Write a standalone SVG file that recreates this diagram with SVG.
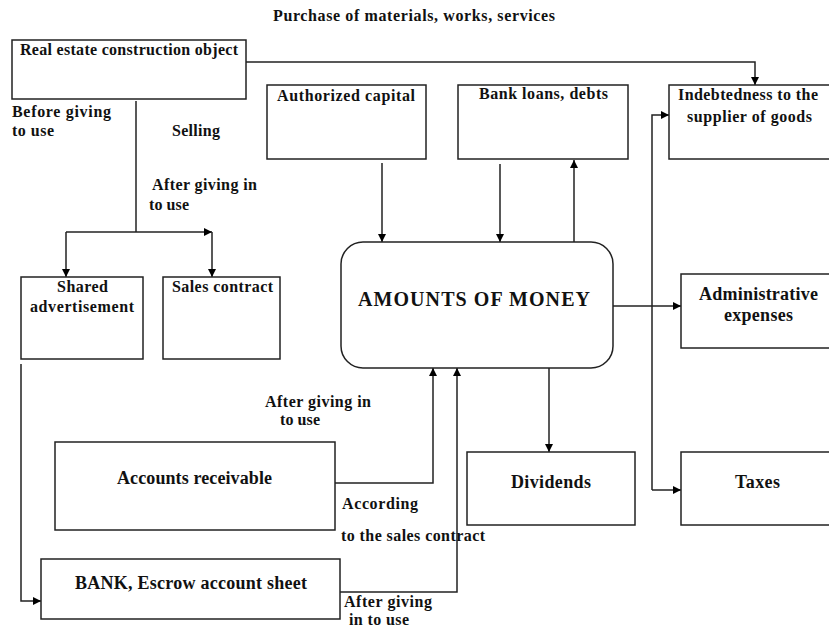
<svg xmlns="http://www.w3.org/2000/svg" width="829" height="627" viewBox="0 0 829 627">
  <defs>
    <marker id="arrow" viewBox="0 0 10 10" refX="10" refY="5" markerWidth="8" markerHeight="8" markerUnits="userSpaceOnUse" orient="auto">
      <path d="M0,0 L10,5 L0,10 z" fill="#000"/>
    </marker>
    <style>
      .box { fill: #fff; stroke: #222; stroke-width: 1.5; }
      .lbl { font-family: "Liberation Serif", "Times New Roman", serif; font-weight: bold; font-size: 16px; fill: #111; }
      .mid { text-anchor: middle; }
      .big { font-size: 18px; }
      .huge { font-size: 20px; }
      .edge { fill: none; stroke: #222; stroke-width: 1.5; }
      .arr { marker-end: url(#arrow); }
    </style>
  </defs>
  <rect width="829" height="627" fill="#fff"/>

  <!-- free labels -->
  <g id="labels">
    <text class="lbl" x="273" y="21" textLength="282">Purchase of materials, works, services</text>
    <text class="lbl" x="12" y="117" textLength="99">Before giving</text>
    <text class="lbl" x="12" y="136" textLength="42">to use</text>
    <text class="lbl" x="172" y="136" textLength="48">Selling</text>
    <text class="lbl" x="152" y="190" textLength="105">After giving in</text>
    <text class="lbl" x="149" y="210" textLength="40">to use</text>
    <text class="lbl" x="265" y="407" textLength="106">After giving in</text>
    <text class="lbl" x="280" y="425" textLength="40">to use</text>
    <text class="lbl" x="342" y="509" textLength="76">According</text>
    <text class="lbl" x="341" y="541" textLength="144">to the sales contract</text>
    <text class="lbl" x="344" y="607" textLength="88">After giving</text>
    <text class="lbl" x="349" y="625" textLength="60">in to use</text>
  </g>

  <!-- connectors -->
  <g id="connectors">
    <path class="edge arr" d="M246,62 H755 V85"/>
    <path class="edge" d="M136,101 V232"/>
    <path class="edge arr" d="M66,232 H212"/>
    <path class="edge arr" d="M66,232 V277"/>
    <path class="edge arr" d="M212,232 V277"/>
    <path class="edge arr" d="M382,163 V242"/>
    <path class="edge arr" d="M500,164 V242"/>
    <path class="edge arr" d="M574,242 V160"/>
    <path class="edge arr" d="M652,490 V115 H669"/>
    <path class="edge arr" d="M652,490 H681"/>
    <path class="edge arr" d="M613,306 H681"/>
    <path class="edge arr" d="M549,368 V452"/>
    <path class="edge arr" d="M21,364 V601 H41"/>
    <path class="edge arr" d="M333,483 H433 V368"/>
    <path class="edge arr" d="M340,592 H457 V368"/>
  </g>

  <g id="real-estate">
    <rect class="box" x="12" y="40" width="234" height="59"/>
    <text class="lbl" x="20" y="55" textLength="218">Real estate construction object</text>
  </g>
  <g id="authorized-capital">
    <rect class="box" x="267" y="85" width="159" height="74"/>
    <text class="lbl" x="277" y="101" textLength="138">Authorized capital</text>
  </g>
  <g id="bank-loans">
    <rect class="box" x="458" y="85" width="170" height="74"/>
    <text class="lbl" x="479" y="99" textLength="129">Bank loans, debts</text>
  </g>
  <g id="indebtedness">
    <rect class="box" x="669" y="85" width="162" height="74"/>
    <text class="lbl" x="678" y="100" textLength="140">Indebtedness to the</text>
    <text class="lbl" x="687" y="122" textLength="125">supplier of goods</text>
  </g>
  <g id="shared-advertisement">
    <rect class="box" x="21" y="277" width="122" height="82"/>
    <text class="lbl" x="57" y="292" textLength="51">Shared</text>
    <text class="lbl" x="30" y="312" textLength="104">advertisement</text>
  </g>
  <g id="sales-contract">
    <rect class="box" x="163" y="277" width="117" height="82"/>
    <text class="lbl" x="172" y="292" textLength="101">Sales contract</text>
  </g>
  <g id="amounts-of-money">
    <rect class="box" x="341" y="242" width="272" height="126" rx="22" ry="22"/>
    <text class="lbl huge" x="358" y="306" textLength="232">AMOUNTS OF MONEY</text>
  </g>
  <g id="administrative-expenses">
    <rect class="box" x="681" y="274" width="150" height="74"/>
    <text class="lbl big" x="699" y="300" textLength="119">Administrative</text>
    <text class="lbl big" x="724" y="321" textLength="69">expenses</text>
  </g>
  <g id="accounts-receivable">
    <rect class="box" x="55" y="442" width="280" height="88"/>
    <text class="lbl big" x="117" y="484" textLength="155">Accounts receivable</text>
  </g>
  <g id="dividends">
    <rect class="box" x="467" y="452" width="168" height="73"/>
    <text class="lbl big" x="511" y="488" textLength="80">Dividends</text>
  </g>
  <g id="taxes">
    <rect class="box" x="681" y="452" width="150" height="73"/>
    <text class="lbl big" x="735" y="488" textLength="45">Taxes</text>
  </g>
  <g id="bank-escrow">
    <rect class="box" x="41" y="559" width="299" height="60"/>
    <text class="lbl big" x="75" y="589" textLength="232">BANK, Escrow account sheet</text>
  </g>
</svg>
